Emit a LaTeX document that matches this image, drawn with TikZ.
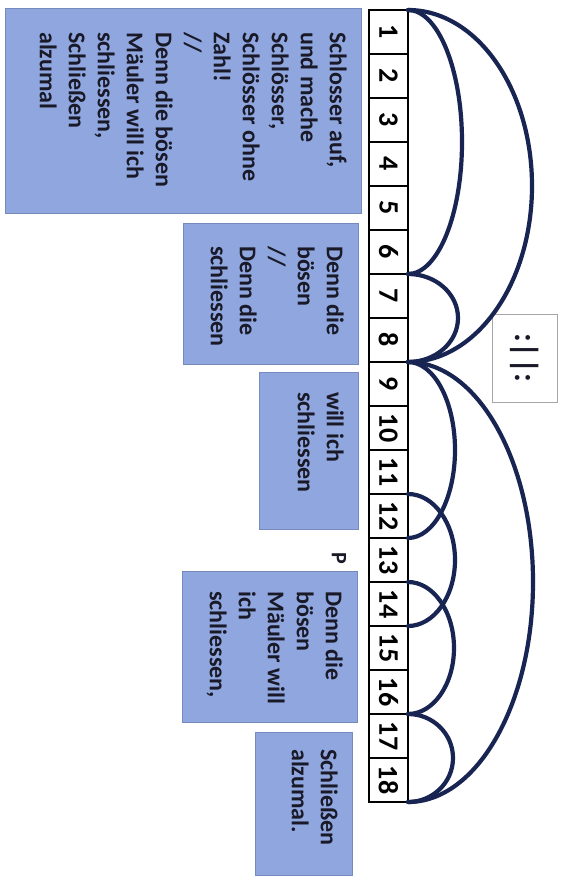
\documentclass[tikz,border=0pt]{standalone}
\usepackage{graphicx}
\usepackage{fontspec}
\setmainfont{Carlito}
\definecolor{verseblue}{RGB}{143,166,222}
\definecolor{verseedge}{RGB}{118,138,190}
\definecolor{bowblue}{RGB}{24,36,82}
\definecolor{inkdark}{RGB}{25,25,40}
\definecolor{signframe}{RGB}{165,165,170}

\begin{document}
\begin{tikzpicture}[x=1pt,y=-1pt,
  cell/.style={draw=black, line width=1.6pt, minimum width=39pt, minimum height=44pt,
    inner sep=0pt, outer sep=0pt, font=\bfseries\fontsize{28}{28}\selectfont},
  verse/.style={fill=verseblue, draw=verseedge, line width=0.8pt, inner sep=0pt, outer sep=0pt},
  versetext/.style={rotate=-90, anchor=north west, align=left, inner sep=0pt,
    text=inkdark, font=\bfseries\fontsize{24}{29}\selectfont},
  bow/.style={draw=bowblue, line width=4.2pt, line cap=round}]

\useasboundingbox (0,0) rectangle (561,877);
\fill[white] (0,0) rectangle (561,877);

% text boxes, lines running top to bottom
\node[verse, minimum width=356pt, minimum height=205pt] (b1) at (183,110.5) {};
\node[verse, minimum width=175pt, minimum height=141pt] (b2) at (270.5,293.5) {};
\node[verse, minimum width=99pt,  minimum height=157pt] (b3) at (308.5,450.5) {};
\node[verse, minimum width=175pt, minimum height=151pt] (b4) at (269.5,646.5) {};
\node[verse, minimum width=97pt,  minimum height=143pt] (b5) at (303.5,803.5) {};

\node[versetext] (t1) at ([xshift=-14pt,yshift=-24pt]b1.north east)
  {Schlosser auf,\\und mache\\Schlösser,\\Schlösser ohne\\Zahl!\\//\\Denn die bösen\\Mäuler will ich\\schliessen,\\Schließen\\alzumal};
\node[versetext] (t2) at ([xshift=-14pt,yshift=-23pt]b2.north east)
  {Denn die\\bösen\\//\\Denn die\\schliessen};
\node[versetext] (t3) at ([xshift=-14pt,yshift=-20pt]b3.north east)
  {will ich\\schliessen};
\node[versetext] (t4) at ([xshift=-14pt,yshift=-20pt]b4.north east)
  {Denn die\\bösen\\Mäuler will\\ich\\schliessen,};
\node[versetext] (t5) at ([xshift=-14pt,yshift=-17pt]b5.north east)
  {Schließen\\alzumal.};

\node[rotate=-90, text=inkdark, font=\bfseries\fontsize{22}{22}\selectfont] (pmark) at (339,558) {P};

% numbered strip of bars
\foreach \i in {1,...,18}
  \node[cell] (c\i) at (388.5,{32+44*(\i-1)}) {\rotatebox{-90}{\i}};

% repeat sign
\node[draw=signframe, fill=white, line width=0.8pt, minimum width=65pt, minimum height=88pt,
  inner sep=0pt] (rep) at (524.5,358) {};
\node[rotate=-90, text=inkdark, font=\bfseries\fontsize{32}{32}\selectfont] (repsym) at (rep.center) {:||:};

% form arcs between bar boundaries
\draw[bow] (c1.north east) arc[start angle=-90, end angle=90, x radius=54,  y radius=132];
\draw[bow] (c1.north east) arc[start angle=-90, end angle=90, x radius=124, y radius=176];
\draw[bow] (c6.south east) arc[start angle=-90, end angle=90, x radius=50,  y radius=44];
\draw[bow] (c8.south east) arc[start angle=-90, end angle=90, x radius=47,  y radius=88];
\draw[bow] (c11.south east) arc[start angle=-90, end angle=90, x radius=47, y radius=66];
\draw[bow] (c13.south east) arc[start angle=-90, end angle=90, x radius=46, y radius=66];
\draw[bow] (c16.south east) arc[start angle=-90, end angle=90, x radius=45, y radius=44];
\draw[bow] (c8.south east) arc[start angle=-90, end angle=90, x radius=125, y radius=220];
\end{tikzpicture}
\end{document}
